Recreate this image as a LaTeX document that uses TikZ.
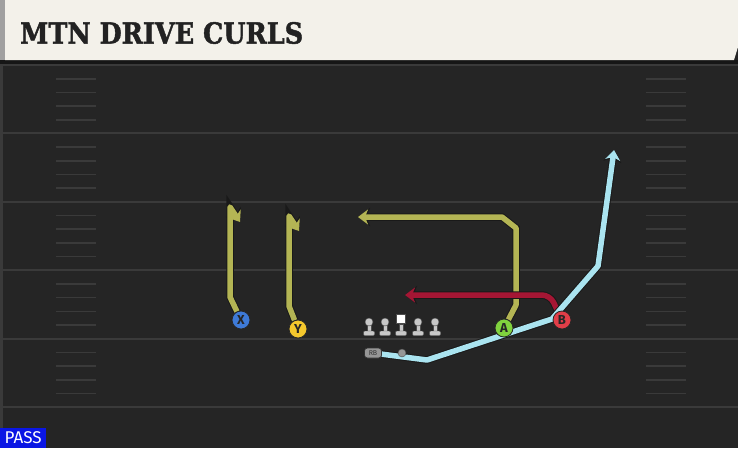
\documentclass[tikz,border=0pt]{standalone}
\usepackage{fontspec}
\setsansfont{Fira Sans}
\newfontfamily\titlefont[BoldFeatures={FakeBold=1.6}]{DejaVu Serif}
\usetikzlibrary{
  positioning,
  calc,
  arrows.meta}
\pgfdeclarelayer{players}
\pgfsetlayers{main,players}
\definecolor{fieldcolor}{RGB}{37,37,37}
\definecolor{shadowcolor}{RGB}{22,22,22}
\definecolor{yardcolor}{RGB}{58,58,58}
\definecolor{bannercolor}{RGB}{243,241,234}
\definecolor{edgecolor}{RGB}{160,160,160}
\definecolor{titlecolor}{RGB}{34,34,34}
\definecolor{curlcolor}{RGB}{180,181,84}
\definecolor{dragcolor}{RGB}{165,22,52}
\definecolor{wheelcolor}{RGB}{170,228,240}
\definecolor{xplayer}{RGB}{62,122,215}
\definecolor{yplayer}{RGB}{245,200,45}
\definecolor{aplayer}{RGB}{128,210,62}
\definecolor{bplayer}{RGB}{225,62,72}
\definecolor{blockcolor}{RGB}{200,200,200}
\definecolor{backcolor}{RGB}{150,150,150}
\definecolor{passblue}{RGB}{10,22,228}
\tikzset{
  lineman/.pic = {
    \coordinate (-head) at (0, 0);
    \filldraw [fill=blockcolor, draw=black!70, line width=0.4pt]
      (-2.2, 2) rectangle (2.2, 10);
    \filldraw [fill=blockcolor, draw=black!70, line width=0.4pt,
      rounded corners=1pt] (-5.5, 9) rectangle (5.5, 13.5);
    \filldraw [fill=blockcolor, draw=black!70, line width=0.4pt]
      (0, 0) circle (4);
  }
}
\tikzset{
  snapper/.pic = {
    \coordinate (-head) at (0, 0);
    \filldraw [fill=blockcolor, draw=black!70, line width=0.4pt]
      (-2.2, 2) rectangle (2.2, 10);
    \filldraw [fill=blockcolor, draw=black!70, line width=0.4pt,
      rounded corners=1pt] (-5.5, 9) rectangle (5.5, 13.5);
    \filldraw [fill=white, draw=black!70, line width=0.4pt]
      (-4.5, -8) rectangle (4.5, 1.5);
  }
}
\tikzset{
  %% yardline : full width line every five yards
  yardline/.style={
    draw=yardcolor,
    line width=2pt
  },
  %% hash : the hash marks in between
  hash/.style={
    draw=yardcolor,
    line width=1.6pt
  },
  %% route : the route of a receiver, black edged
  route/.style={
    line width=5.5pt,
    line join=round,
    -{Stealth[length=10pt, width=15pt, inset=3pt]},
    preaction={
      draw=black!90,
      line width=7.5pt,
      -{Stealth[length=12pt, width=18pt, inset=3.5pt]}}
  },
  %% player : a receiver
  player/.style={
    circle,
    draw=black!85,
    line width=0.8pt,
    minimum size=18pt,
    inner sep=0pt,
    text=black!85,
    font=\sffamily\bfseries\fontsize{13}{13}\selectfont
  },
  %% back : the running back
  back/.style={
    rectangle,
    rounded corners=3pt,
    fill=backcolor,
    draw=black!80,
    line width=0.6pt,
    minimum width=17pt,
    minimum height=10pt,
    inner sep=0pt,
    text=black!80,
    font=\sffamily\fontsize{7}{7}\selectfont
  },
  %% qb : the quarterback
  qb/.style={
    circle,
    fill=backcolor,
    draw=black!70,
    line width=0.4pt,
    minimum size=8pt,
    inner sep=0pt
  },
  %% playtype : label in the lower left corner
  playtype/.style={
    rectangle,
    fill=passblue,
    text=white,
    minimum width=46pt,
    minimum height=20pt,
    inner sep=0pt,
    font=\sffamily\fontsize{17}{17}\selectfont
  }
}

\begin{document}
\begin{tikzpicture}
  [x=1pt,
  y=-1pt]
  \useasboundingbox (0, 0) rectangle (738, 448);

  %% players
  \begin{pgfonlayer}{players}
    \node (X) [player, fill=xplayer] at (241, 320) {X};
    \node (Y) [player, fill=yplayer] at (298, 329) {Y};
    \node (A) [player, fill=aplayer] at (504, 328) {A};
    \node (B) [player, fill=bplayer] at (562, 320) {B};

    \pic (lt) at (369, 322) {lineman};
    \pic (lg) at (385, 322) {lineman};
    \pic (c) at (401, 322) {snapper};
    \pic (rg) at (418, 322) {lineman};
    \pic (rt) at (435, 322) {lineman};

    \node (rb) [back] at (373, 353) {RB};
    \node (qb) [qb] at (402, 353) {};

    \node (play_type) [playtype, anchor=south west] at (0, 448) {PASS};
  \end{pgfonlayer}


  %% field
  \fill [fieldcolor] (0, 0) rectangle (738, 448);
  \fill [yardcolor] (0, 60) rectangle (2.5, 448);
  \foreach \k in {0,...,5}
    \draw [yardline] (2.5, 65+68.4*\k) -- (738, 65+68.4*\k);
  \foreach \k in {0,...,4}
    \foreach \j in {1,...,4} {
      \draw [hash] (56, 65+68.4*\k+13.7*\j) -- (96, 65+68.4*\k+13.7*\j);
      \draw [hash] (646, 65+68.4*\k+13.7*\j) -- (686, 65+68.4*\k+13.7*\j);
    }

  %% title banner
  \fill [shadowcolor] (0, 60) rectangle (738, 64);
  \fill [edgecolor] (0, 0) rectangle (5, 60);
  \fill [bannercolor] (5, 0) -- (738, 0) -- (738, 47) -- (734, 60)
    -- (5, 60) -- cycle;
  \node (title) [anchor=west, text=titlecolor, inner sep=0pt, xscale=0.88]
    at (20, 33) {%
    \titlefont\bfseries\fontsize{29}{29}\selectfont MTN DRIVE CURLS};


  %% route ends
  \coordinate (x_end) at (240, 222);
  \coordinate (y_end) at (299, 231);
  \coordinate (a_end) at (358, 217);
  \coordinate (b_end) at (405, 295);
  \coordinate (rb_end) at (614, 150);

  %% Routes
  \draw [route, curlcolor] (X) -- (230, 297) -- (230, 207) -- (x_end);
  \draw [route, curlcolor] (Y) -- (289, 306) -- (289, 216) -- (y_end);
  \draw [route, curlcolor] (A) -- (516, 305) -- (516, 228) -- (502, 217)
    -- (a_end);
  \draw [route, dragcolor, rounded corners=8pt] (B) -- (550, 295)
    -- (b_end);
  \draw [route, wheelcolor] (rb) -- (427, 360) -- (552, 319) -- (598, 266)
    -- (rb_end);

\end{tikzpicture}
\end{document}
